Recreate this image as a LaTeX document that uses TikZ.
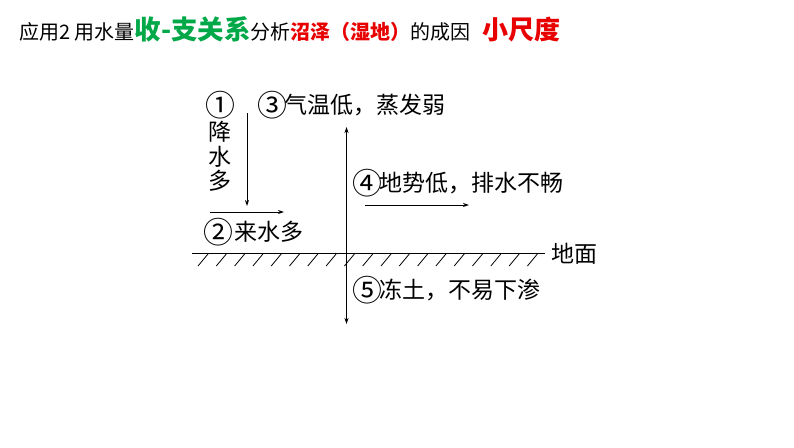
\documentclass[tikz,border=0pt]{standalone}
\usepackage{fontspec}
\usepackage{graphicx}
\setmainfont{Noto Sans CJK SC}
\usetikzlibrary{arrows.meta}
\definecolor{tgreen}{RGB}{0,168,72}
\definecolor{tred}{RGB}{232,0,0}
\newcommand{\circnum}[1]{\makebox[1em][c]{\raisebox{-0.11em}{\scalebox{1.3}{#1}}}}
\tikzset{
  lbl/.style={inner sep=0pt, font=\fontsize{23}{24}\selectfont},
  arr/.style={line width=1pt, -{Stealth[length=6pt,width=4pt]}},
  darr/.style={line width=1.5pt, {Stealth[length=6pt,width=4pt]}-{Stealth[length=6pt,width=4pt]}},
  ground/.style={line width=1pt},
  hatch/.style={line width=0.8pt},
}
\begin{document}
\begin{tikzpicture}[x=1pt,y=-1pt]
\useasboundingbox[fill=white] (0,0) rectangle (794,447);
% title
\node[anchor=base west, inner sep=0pt] (title) at (19,39.5)
  {\fontsize{20}{24}\selectfont 应用2 用水量{\fontsize{26.5}{30}\selectfont\bfseries\color{tgreen}收-支关系}分析{\bfseries\color{tred}沼泽（湿地）}的成因};
\node[anchor=base west, inner sep=0pt] (scale) at (482,39.5)
  {\fontsize{26}{30}\selectfont\bfseries\color{tred}小尺度};
% labels
\node[lbl] (n1) at (220,105) {\circnum{①}};
\node[lbl] (n1a) at (220,132) {降};
\node[lbl] (n1b) at (220,157) {水};
\node[lbl] (n1c) at (220,181) {多};
\node[lbl,anchor=west] (n2) at (207,232) {\circnum{②}\hspace{4pt}来水多};
\node[lbl,anchor=west] (n3) at (261,105) {\circnum{③}气温低，蒸发弱};
\node[lbl,anchor=west] (n4) at (356,183) {\circnum{④}地势低，排水不畅};
\node[lbl,anchor=west] (n5) at (356,290) {\circnum{⑤}冻土，不易下渗};
\node[lbl,anchor=west] (gd) at (551,254) {地面};
% arrow end points
\coordinate (rs) at (247,113);
\coordinate (re) at (247,206);
\coordinate (is) at (210,212);
\coordinate (ie) at (284,212);
\coordinate (vt) at (346.5,127);
\coordinate (vb) at (346.5,324);
\coordinate (ds) at (365,205);
\coordinate (de) at (469,205);
\coordinate (gl) at (192,253);
\coordinate (gr) at (545,253);
% arrows
\draw[arr] (rs) -- (re);
\draw[arr] (is) -- (ie);
\draw[darr] (vt) -- (vb);
\draw[arr] (ds) -- (de);
% ground
\draw[ground] (gl) -- (gr);
\foreach \i in {0,...,18} {
  \draw[hatch] (198+18.3*\i,266) -- ++(10,-12);
}
\end{tikzpicture}
\end{document}
